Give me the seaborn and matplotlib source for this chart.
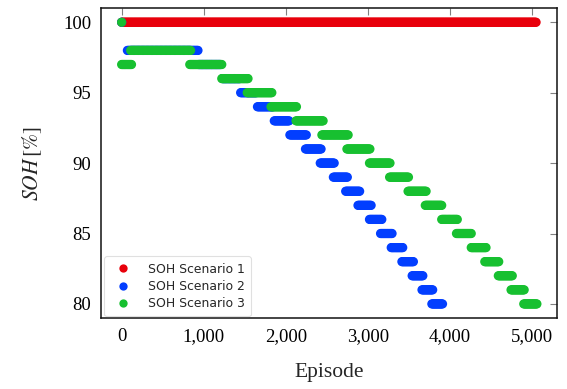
import numpy as np
import pandas as pd
import matplotlib
matplotlib.use("Agg")
import matplotlib.pyplot as plt
import matplotlib.ticker as mticker
import seaborn as sns

# State of health per scenario, as constant SOH levels held over episode ranges
s1_level = [100]
s1_start = [0]
s1_end = [5050]

s2_level = [100, 98, 97, 96, 95, 94, 93, 92, 91, 90, 89, 88, 87, 86, 85, 84, 83, 82, 81, 80]
s2_start = [0, 70, 940, 1230, 1450, 1655, 1860, 2050, 2240, 2420, 2580, 2730, 2880, 3020, 3155, 3285, 3415, 3540, 3660, 3780]
s2_end = [0, 930, 1200, 1440, 1645, 1850, 2040, 2255, 2435, 2595, 2750, 2900, 3040, 3170, 3300, 3430, 3555, 3670, 3795, 3915]

s3_level = [100, 97, 98, 97, 96, 95, 94, 93, 92, 91, 90, 89, 88, 87, 86, 85, 84, 83, 82, 81, 80]
s3_start = [0, 0, 110, 830, 1220, 1530, 1820, 2125, 2440, 2745, 3020, 3265, 3490, 3700, 3900, 4080, 4260, 4425, 4590, 4745, 4900]
s3_end = [0, 120, 840, 1225, 1540, 1830, 2135, 2460, 2760, 3030, 3275, 3500, 3710, 3905, 4095, 4265, 4440, 4600, 4760, 4910, 5060]

names = ["SOH Scenario 1", "SOH Scenario 2", "SOH Scenario 3"]
colors = ["#e8000b", "#023eff", "#17c030"]


def episodes(name, levels, starts, ends, step=10):
    rows = []
    for lv, a, b in zip(levels, starts, ends):
        for ep in np.arange(a, b + 1, step):
            rows.append((name, ep, lv))
    return rows


rows = (episodes(names[0], s1_level, s1_start, s1_end)
        + episodes(names[1], s2_level, s2_start, s2_end)
        + episodes(names[2], s3_level, s3_start, s3_end))
df = pd.DataFrame(rows, columns=["scenario", "Episode", "SOH"])

sns.set_theme(style="white")
plt.rcParams["font.family"] = ["Liberation Serif", "DejaVu Serif"]
plt.rcParams["mathtext.fontset"] = "stix"

fig = plt.figure(figsize=(5.67, 3.89), dpi=100)
ax = fig.add_axes([0.178, 0.1825, 0.804, 0.7965])

sns.scatterplot(data=df, x="Episode", y="SOH", hue="scenario", hue_order=names,
                palette=dict(zip(names, colors)), s=44, linewidth=0,
                edgecolor="none", ax=ax, legend=True)

ax.set_xlim(-252.5, 5302.5)
ax.set_ylim(79, 101)
ax.xaxis.set_major_locator(mticker.MultipleLocator(1000))
ax.xaxis.set_major_formatter(mticker.FuncFormatter(lambda v, p: f"{int(v):,}"))
ax.yaxis.set_major_locator(mticker.MultipleLocator(5))

ax.tick_params(axis="both", which="major", direction="in", length=5, width=0.8,
               color="#808080", labelsize=13.5, pad=7, top=True, right=True,
               labelcolor="black")
for sp in ax.spines.values():
    sp.set_color("#111111")
    sp.set_linewidth(1.1)

ax.set_xlabel("Episode", fontsize=15.5, labelpad=13)
ax.set_ylabel(r"$SOH\,[\%]$", fontsize=15.5, labelpad=14)

leg = ax.legend(loc="lower left", bbox_to_anchor=(-0.006, -0.015), frameon=True,
                markerscale=0.9, handletextpad=1.0,
                borderpad=0.5, labelspacing=0.35, framealpha=0.6,
                prop={"family": "DejaVu Sans", "size": 8.9})
leg.get_frame().set_edgecolor("#cccccc")
leg.get_frame().set_linewidth(0.8)

fig.savefig("out.png", dpi=100)
